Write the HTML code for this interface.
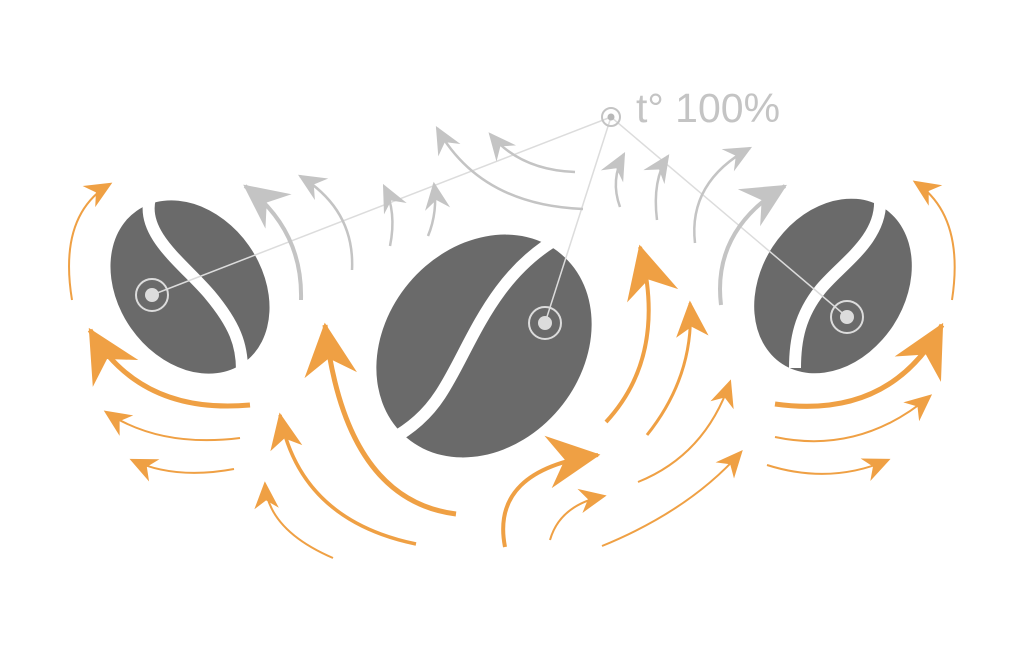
<!DOCTYPE html>
<html><head><meta charset="utf-8"><style>
html,body{margin:0;padding:0;background:#fff;width:1024px;height:650px;overflow:hidden}
svg{display:block}
</style></head><body>
<svg width="1024" height="650" viewBox="0 0 1024 650" xmlns="http://www.w3.org/2000/svg">
<defs>
<marker id="oS" markerUnits="userSpaceOnUse" markerWidth="30" markerHeight="30" viewBox="-20 -10 22 20" refX="0" refY="0" orient="auto"><path d="M2,0 L-18,-9 L-12,0 L-18,9 Z" fill="#EFA044"/></marker>
<marker id="oM" markerUnits="userSpaceOnUse" markerWidth="40" markerHeight="40" viewBox="-30 -15 32 30" refX="0" refY="0" orient="auto"><path d="M2,0 L-27,-13 L-19,0 L-27,13 Z" fill="#EFA044"/></marker>
<marker id="oL" markerUnits="userSpaceOnUse" markerWidth="60" markerHeight="60" viewBox="-45 -25 47 50" refX="0" refY="0" orient="auto"><path d="M2,0 L-42,-22 L-28,0 L-42,22 Z" fill="#EFA044"/></marker>
<marker id="gS" markerUnits="userSpaceOnUse" markerWidth="30" markerHeight="30" viewBox="-24 -13 26 26" refX="0" refY="0" orient="auto"><path d="M2,0 L-22,-11 L-14,0 L-22,11 Z" fill="#C4C4C4"/></marker>
<marker id="gL" markerUnits="userSpaceOnUse" markerWidth="50" markerHeight="50" viewBox="-40 -22 42 44" refX="0" refY="0" orient="auto"><path d="M2,0 L-37,-19 L-24,0 L-37,19 Z" fill="#C4C4C4"/></marker>
</defs>

<g fill="#6A6A6A">
<ellipse cx="190" cy="287" rx="72" ry="93" transform="rotate(-35 190 287)"/>
<ellipse cx="484" cy="346" rx="98" ry="120" transform="rotate(40 484 346)"/>
<ellipse cx="833" cy="286" rx="72" ry="93" transform="rotate(33 833 286)"/>
</g>
<g fill="none" stroke="#fff" stroke-width="12">
<path d="M150,198 C140,235 185,265 210,295 C235,325 242,345 242,370"/>
<path d="M562,236 C490,275 470,350 440,395 C425,418 405,432 390,440"/>
<path d="M880,200 C882,240 840,265 820,290 C800,315 795,340 795,368"/>
</g>

<g stroke="#DCDCDC" stroke-width="1.5" fill="none">
<line x1="611" y1="117" x2="152" y2="295"/>
<line x1="611" y1="117" x2="545" y2="323"/>
<line x1="611" y1="117" x2="847" y2="317"/>
<circle cx="611" cy="117" r="9" stroke="#C4C4C4" stroke-width="2"/>
<circle cx="152" cy="295" r="16" stroke-width="2"/>
<circle cx="545" cy="323" r="16" stroke-width="2"/>
<circle cx="847" cy="317" r="16" stroke-width="2"/>
</g>
<g fill="#DCDCDC">
<circle cx="611" cy="117" r="3.5" fill="#B8B8B8"/>
<circle cx="152" cy="295" r="7"/>
<circle cx="545" cy="323" r="7"/>
<circle cx="847" cy="317" r="7"/>
</g>
<text x="636" y="122" font-family="Liberation Sans, sans-serif" font-size="41" fill="#C4C4C4">t° 100%</text>

<g fill="none" stroke="#C4C4C4" stroke-width="2.5">
<path d="M301,300 Q303,230 245,186" stroke-width="4" marker-end="url(#gL)"/>
<path d="M352,270 Q355,210 300,176" marker-end="url(#gS)"/>
<path d="M390,246 Q397,212 384,186" marker-end="url(#gS)"/>
<path d="M428,236 Q438,212 434,184" marker-end="url(#gS)"/>
<path d="M583,209 Q480,205 437,128" marker-end="url(#gS)"/>
<path d="M575,172 Q520,170 490,134" marker-end="url(#gS)"/>
<path d="M620,207 Q610,180 624,154" marker-end="url(#gS)"/>
<path d="M657,220 Q652,180 668,156" marker-end="url(#gS)"/>
<path d="M695,243 Q688,182 750,148" marker-end="url(#gS)"/>
<path d="M721,305 Q712,230 785,186" stroke-width="4" marker-end="url(#gL)"/>
</g>

<g fill="none" stroke="#EFA044" stroke-width="2">
<path d="M72,300 Q58,215 110,184" marker-end="url(#oS)"/>
<path d="M250,405 Q140,415 90,330" stroke-width="5" marker-end="url(#oL)"/>
<path d="M240,438 Q160,448 106,412" marker-end="url(#oS)"/>
<path d="M234,469 Q175,480 132,460" marker-end="url(#oS)"/>
<path d="M456,514 Q345,500 325,325" stroke-width="5" marker-end="url(#oL)"/>
<path d="M416,544 Q300,520 280,415" stroke-width="3.5" marker-end="url(#oM)"/>
<path d="M333,558 Q268,530 265,484" marker-end="url(#oS)"/>
<path d="M505,547 Q490,470 598,455" stroke-width="4" marker-end="url(#oL)"/>
<path d="M550,540 Q560,505 604,496" marker-end="url(#oS)"/>
<path d="M606,422 Q668,355 640,247" stroke-width="4" marker-end="url(#oL)"/>
<path d="M647,435 Q695,375 690,303" stroke-width="3" marker-end="url(#oM)"/>
<path d="M638,482 Q705,455 730,382" marker-end="url(#oS)"/>
<path d="M602,546 Q690,510 741,452" marker-end="url(#oS)"/>
<path d="M952,300 Q965,215 915,182" marker-end="url(#oS)"/>
<path d="M775,404 Q890,420 942,325" stroke-width="5" marker-end="url(#oL)"/>
<path d="M775,437 Q860,455 930,396" marker-end="url(#oS)"/>
<path d="M767,465 Q830,485 888,460" marker-end="url(#oS)"/>
</g>
</svg>
</body></html>
